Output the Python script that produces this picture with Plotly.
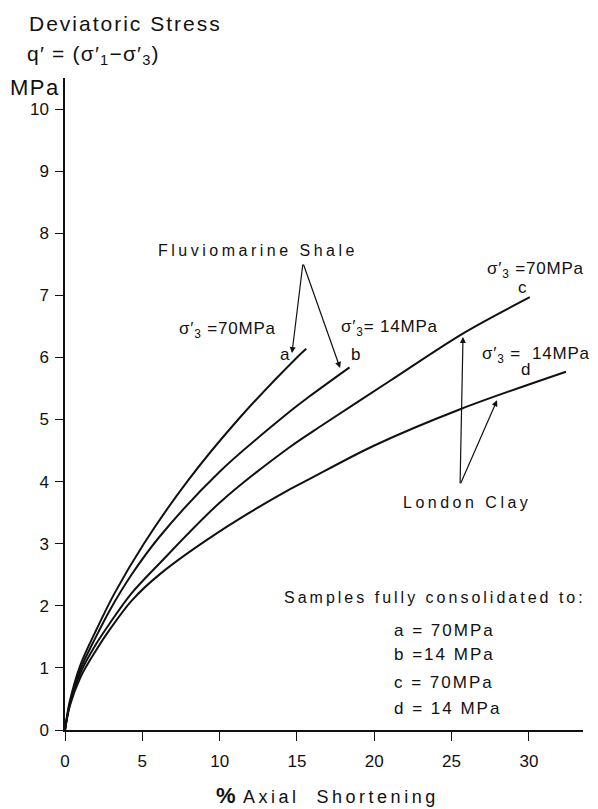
import plotly.graph_objects as go

# ---- data ----
x_a = [0, 0.3, 1.0, 2.0, 3.2, 5.1, 7.9, 11.2, 15.0, 15.6]
y_a = [0, 0.45, 1.05, 1.60, 2.20, 3.00, 4.00, 5.00, 6.00, 6.14]

x_b = [0, 0.3, 1.0, 2.0, 2.9, 4.3, 6.14, 10.0, 14.5, 15.8, 18.4]
y_b = [0, 0.42, 0.98, 1.50, 1.93, 2.50, 3.12, 4.16, 5.12, 5.37, 5.84]

x_c = [0, 0.3, 1.0, 2.0, 2.9, 4.3, 6.14, 10.0, 14.5, 16.7, 21.0, 25.7, 30.06]
y_c = [0, 0.40, 0.92, 1.38, 1.72, 2.20, 2.69, 3.66, 4.55, 4.92, 5.62, 6.38, 6.97]

x_d = [0, 0.3, 1.0, 2.0, 2.9, 4.3, 6.14, 10.45, 14.5, 15.8, 19.9, 25.6, 32.4]
y_d = [0, 0.38, 0.85, 1.28, 1.62, 2.08, 2.51, 3.27, 3.87, 4.04, 4.57, 5.17, 5.77]

x_ticks = [0, 5, 10, 15, 20, 25, 30]
y_ticks = [0, 1, 2, 3, 4, 5, 6, 7, 8, 9, 10]

legend_lines = ["a = 70MPa", "b =14 MPa", "c = 70MPa", "d = 14 MPa"]

FONT = "Liberation Sans, Arial, Helvetica, sans-serif"
BLACK = "#111111"

def sp(t, ls=2):
    return f'<span style="letter-spacing:{ls}px">{t}</span>'

fig = go.Figure()
for xs, ys in [(x_a, y_a), (x_b, y_b), (x_c, y_c), (x_d, y_d)]:
    fig.add_trace(go.Scatter(x=xs, y=ys, mode="lines",
                             line=dict(color=BLACK, width=2, shape="spline", smoothing=0.9),
                             showlegend=False, hoverinfo="skip"))

ann = []
def txt(x, y, t, size=15, xanchor="center", yanchor="middle", ref="data"):
    d = dict(x=x, y=y, text=t, showarrow=False, xanchor=xanchor, yanchor=yanchor,
             align="left" if xanchor == "left" else "center",
             font=dict(family=FONT, size=size, color=BLACK))
    if ref == "paper":
        d.update(xref="paper", yref="paper")
    ann.append(d)

def arrow(x0, y0, x1, y1):
    ann.append(dict(x=x1, y=y1, ax=x0, ay=y0, xref="x", yref="y", axref="x", ayref="y",
                    text="", showarrow=True, arrowhead=2, arrowsize=1.0, arrowwidth=1.2,
                    arrowcolor=BLACK, standoff=0, startstandoff=0))

s3 = "σ′<sub>3</sub>"
# in-plot labels
txt(12.48, 7.73, sp("Fluviomarine Shale", 3.5), 16)
arrow(15.39, 7.52, 14.68, 6.07)
arrow(15.39, 7.52, 17.79, 5.83)

txt(10.54, 6.44, sp(s3 + " =70MPa", 0.8), 17)
txt(14.23, 6.04, "a", 17)
txt(21.0, 6.47, sp(s3 + "= 14MPa", 0.8), 17)
txt(18.76, 6.04, "b", 17)
txt(30.4, 7.41, sp(s3 + " =70MPa", 0.8), 17)
txt(29.6, 7.12, "c", 17)
txt(28.2, 6.04, sp(s3 + " =", 0.8), 17)
txt(32.1, 6.07, sp("14MPa", 0.8), 17)
txt(29.75, 5.80, "d", 17)

txt(26.0, 3.66, sp("London Clay", 3.5), 16)
arrow(25.55, 3.95, 25.74, 6.33)
arrow(25.55, 3.95, 27.94, 5.31)

txt(23.9, 2.14, sp("Samples fully consolidated to:", 3), 16)
for t, yy in zip(legend_lines, [1.61, 1.21, 0.77, 0.35]):
    txt(21.15, yy, sp(t, 2), 17, xanchor="left")

# axis titles
txt(-0.073, 1.084, sp("Deviatoric Stress", 2), 21, xanchor="left", ref="paper")
txt(-0.077, 1.035, sp("q′ = (σ′<sub>1</sub>−σ′<sub>3</sub>)", 1.2), 21, xanchor="left", ref="paper")
txt(-0.110, 0.985, sp("MPa", 1.5), 22, xanchor="left", ref="paper")
txt(0.506, -0.100, '<b><span style="font-size:22px">%</span></b>' + sp(" Axial  Shortening", 3.5), 18, ref="paper")

# page body has an 8px default margin: figure is sized to fit the 598x809 window
fig.update_layout(
    width=590, height=801,
    margin=dict(l=57, r=15, t=70, b=79),
    paper_bgcolor="white", plot_bgcolor="white",
    annotations=ann,
    font=dict(family=FONT, color=BLACK),
    xaxis=dict(range=[0, 33.5], tickvals=x_ticks, ticktext=[str(v) for v in x_ticks],
               showgrid=False, zeroline=False, showline=True, linecolor=BLACK, linewidth=1.5,
               ticks="outside", ticklen=9, tickwidth=1.2, tickcolor=BLACK, ticklabelstandoff=6,
               tickfont=dict(family=FONT, size=17, color=BLACK)),
    yaxis=dict(range=[0, 10.5], tickvals=y_ticks, ticktext=[str(v) for v in y_ticks],
               showgrid=False, zeroline=False, showline=True, linecolor=BLACK, linewidth=1.5,
               ticks="outside", ticklen=8, tickwidth=1.2, tickcolor=BLACK, ticklabelstandoff=3,
               tickfont=dict(family=FONT, size=17, color=BLACK)),
)

fig.write_html("out.html")
